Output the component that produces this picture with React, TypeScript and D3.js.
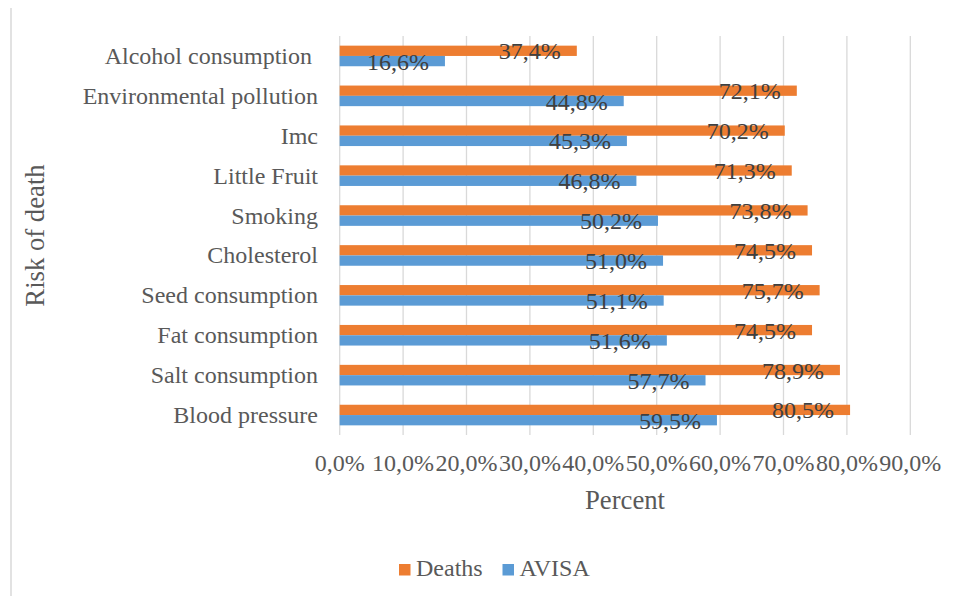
import React from "react";
import * as d3 from "d3";

const categories = [
  "Alcohol consumption ",
  "Environmental pollution",
  "Imc",
  "Little Fruit",
  "Smoking",
  "Cholesterol",
  "Seed consumption",
  "Fat consumption",
  "Salt consumption",
  "Blood pressure",
];
const deaths = [37.4, 72.1, 70.2, 71.3, 73.8, 74.5, 75.7, 74.5, 78.9, 80.5];
const avisa = [16.6, 44.8, 45.3, 46.8, 50.2, 51.0, 51.1, 51.6, 57.7, 59.5];
const xTicks = [0, 10, 20, 30, 40, 50, 60, 70, 80, 90];
const seriesNames = ["Deaths", "AVISA"];
const seriesColors = ["#ED7D31", "#5B9BD5"];

const fmt = (v: number) => v.toFixed(1).replace(".", ",") + "%";

export default function App() {
  const W = 960;
  const H = 604;
  const left = 339.7;
  const right = 910.3;
  const top = 36;
  const bottom = 435;
  const font = "Liberation Serif";
  const textColor = "#595959";

  const x = d3.scaleLinear().domain([0, 90]).range([left, right]);
  const y = d3.scaleBand<string>().domain(categories).range([top, bottom]).paddingInner(0).paddingOuter(0);
  const bw = y.bandwidth();
  const barH = 10.3;
  const series = [deaths, avisa];
  const ts = { fontFamily: font };

  return (
    <div style={{ margin: -8, width: W, height: H }}>
      <svg width={W} height={H} style={{ display: "block", fontFamily: font }}>
        <rect x={0} y={0} width={W} height={H} fill="#fff" />
        <rect x={11} y={6.8} width={W + 20} height={H + 20} fill="none" stroke="#d9d9d9" strokeWidth={1.5} />
        {xTicks.map((t) => (
          <line key={t} x1={x(t)} x2={x(t)} y1={top} y2={bottom} stroke="#d9d9d9" strokeWidth={1.3} />
        ))}
        {categories.map((c, i) => {
          const cy = (y(c) as number) + bw / 2;
          return (
            <g key={c}>
              {series.map((s, si) => {
                const by = cy - barH + si * barH;
                return (
                  <rect key={si} x={x(0)} y={by} width={x(s[i]) - x(0)} height={barH} fill={seriesColors[si]} />
                );
              })}
              <text
                x={318}
                y={cy + 8}
                textAnchor="end"
                fontSize={24}
                fill={textColor}
                style={{ ...ts, whiteSpace: "pre" }}
              >
                {c}
              </text>
            </g>
          );
        })}
        {categories.map((c, i) => {
          const cy = (y(c) as number) + bw / 2;
          return series.map((s, si) => {
            const bc = cy - barH / 2 + si * barH;
            return (
              <text
                key={c + si}
                x={x(s[i]) - 16}
                y={bc + 8.5}
                textAnchor="end"
                fontSize={24}
                fill="#404040"
                style={ts}
              >
                {fmt(s[i])}
              </text>
            );
          });
        })}
        {xTicks.map((t) => (
          <text key={t} x={x(t)} y={471} textAnchor="middle" fontSize={24} fill={textColor} style={ts}>
            {fmt(t)}
          </text>
        ))}
        <text x={(left + right) / 2} y={509} textAnchor="middle" fontSize={26.7} fill={textColor} style={ts}>
          Percent
        </text>
        <text
          transform={`translate(44, ${(top + bottom) / 2}) rotate(-90)`}
          textAnchor="middle"
          fontSize={26.7}
          fill={textColor}
          style={ts}
        >
          Risk of death
        </text>
        {seriesNames.map((n, i) => {
          const lx = [399, 502.5][i];
          return (
            <g key={n}>
              <rect x={lx} y={564} width={11.5} height={11.5} fill={seriesColors[i]} />
              <text x={lx + 17} y={576} fontSize={24} fill={textColor} style={ts}>
                {n}
              </text>
            </g>
          );
        })}
      </svg>
    </div>
  );
}
